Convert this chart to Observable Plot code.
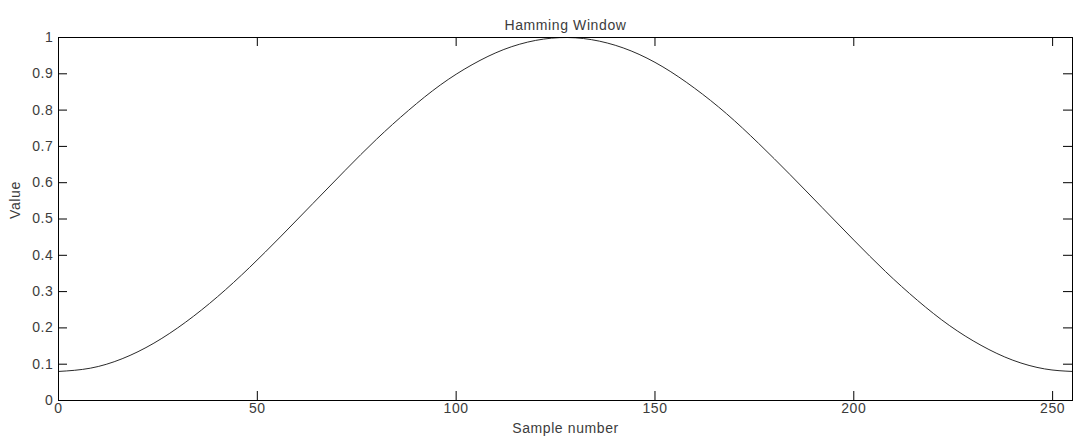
<!DOCTYPE html>
<html>
<head>
<meta charset="utf-8">
<script src="https://cdn.jsdelivr.net/npm/d3@7"></script>
<script src="https://cdn.jsdelivr.net/npm/@observablehq/plot@0.6"></script>
<style>
  html, body { margin: 0; padding: 0; background: #fff; }
  #chart svg { display: block; }
  #chart svg text { letter-spacing: 0.6px; }
</style>
</head>
<body>
<div id="chart"></div>
<script>
// Hamming window, 256 samples: sample index and window value
const sampleIndex = [0, 8, 16, 24, 32, 40, 48, 56, 64, 72, 80, 88, 96, 104, 112, 120, 128,
  136, 144, 152, 160, 168, 176, 184, 192, 200, 208, 216, 224, 232, 240, 248, 255];
const windowValue = [0.080, 0.089, 0.115, 0.158, 0.216, 0.286, 0.366, 0.453, 0.543, 0.633, 0.720,
  0.799, 0.869, 0.925, 0.967, 0.992, 1.000, 0.990, 0.963, 0.919, 0.860, 0.790, 0.709,
  0.622, 0.532, 0.442, 0.355, 0.276, 0.207, 0.152, 0.111, 0.087, 0.080];

const xTicks = [0, 50, 100, 150, 200, 250];
const yTicks = [0, 0.1, 0.2, 0.3, 0.4, 0.5, 0.6, 0.7, 0.8, 0.9, 1];
const yTickLabels = ["0", "0.1", "0.2", "0.3", "0.4", "0.5", "0.6", "0.7", "0.8", "0.9", "1"];

const titleText = "Hamming Window";
const xLabelText = "Sample number";
const yLabelText = "Value";

const points = sampleIndex.map((n, i) => ({n, v: windowValue[i]}));

const W = 1073, H = 442;
const mL = 58, mR = 1, mT = 37, mB = 42;
const frameW = W - mL - mR, frameH = H - mT - mB;
const tickLen = 9;
const font = "Liberation Sans, Arial, Helvetica, sans-serif";
const textColor = "#3c3c3c";
const fs = 14;

const chart = Plot.plot({
  width: W,
  height: H,
  marginLeft: mL,
  marginRight: mR,
  marginTop: mT,
  marginBottom: mB,
  style: {fontFamily: font, fontSize: fs + "px", background: "#fff", color: textColor},
  x: {domain: [0, 255], axis: null},
  y: {domain: [0, 1], axis: null},
  marks: [
    // inward ticks on all four sides
    Plot.tickX(xTicks, {x: d => d, insetTop: frameH - tickLen, stroke: "#000"}),
    Plot.tickX(xTicks, {x: d => d, insetBottom: frameH - tickLen, stroke: "#000"}),
    Plot.tickY(yTicks, {y: d => d, insetRight: frameW - tickLen, stroke: "#000"}),
    Plot.tickY(yTicks, {y: d => d, insetLeft: frameW - tickLen, stroke: "#000"}),
    // tick labels
    Plot.text(xTicks, {x: d => d, frameAnchor: "bottom", dy: 12, text: d => String(d), fill: textColor, fontSize: fs}),
    Plot.text(yTicks, {y: d => d, frameAnchor: "left", dx: -5, textAnchor: "end",
      text: (d, i) => yTickLabels[i], fill: textColor, fontSize: fs}),
    // curve
    Plot.line(points, {x: "n", y: "v", curve: "natural", stroke: "#2a2a2a", strokeWidth: 1}),
    Plot.frame({stroke: "#000"}),
    // title and axis labels
    Plot.text([titleText], {frameAnchor: "top", dy: -17, text: d => d, fill: textColor, fontSize: fs}),
    Plot.text([xLabelText], {frameAnchor: "bottom", dy: 32, text: d => d, fill: textColor, fontSize: fs}),
    Plot.text([yLabelText], {frameAnchor: "left", dx: -43, rotate: -90, text: d => d, fill: textColor, fontSize: fs})
  ]
});

document.getElementById("chart").appendChild(chart);
</script>
</body>
</html>
